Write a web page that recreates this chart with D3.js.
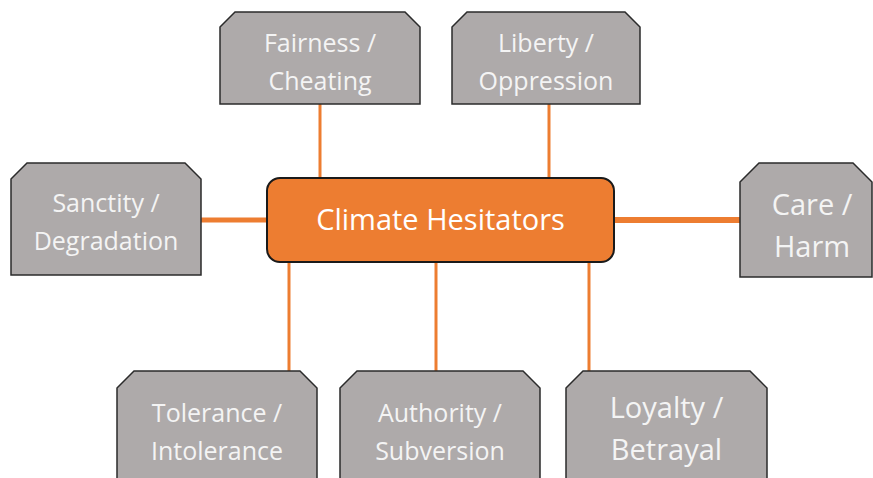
<!DOCTYPE html>
<meta charset="utf-8">
<script src="https://d3js.org/d3.v7.js"></script>
<style>
  body { margin: 0; background: #fff; }
  text { font-family: "Open Sans", Lato, sans-serif; }
</style>
<div id="my_dataviz"></div>
<script>

// centre node and the moral foundation nodes around it
var centreLabel = "Climate Hesitators"
var nodeLabels = [
  ["Fairness /", "Cheating"],
  ["Liberty /", "Oppression"],
  ["Sanctity /", "Degradation"],
  ["Care /", "Harm"],
  ["Tolerance /", "Intolerance"],
  ["Authority /", "Subversion"],
  ["Loyalty /", "Betrayal"]
]
var nodeSides = ["top", "top", "left", "right", "bottom", "bottom", "bottom"]

// layout (pixel positions for the boxes, text baselines)
var layout = [
  {x0: 220, x1: 420, y0: 12, y1: 104, cut: 15, fs: 25, lx: 320, b: 52, gap: 38},
  {x0: 452, x1: 640, y0: 12, y1: 104, cut: 15, fs: 25, lx: 549, b: 52, gap: 38},
  {x0: 11, x1: 201, y0: 163, y1: 275, cut: 16, fs: 25, ly: 220, b: 212, gap: 38},
  {x0: 740, x1: 872, y0: 163, y1: 277, cut: 19, fs: 29, ly: 220, b: 215, gap: 42, tx: 812},
  {x0: 117, x1: 317, y0: 371, y1: 490, cut: 17, fs: 25, lx: 289, b: 422, gap: 38},
  {x0: 340, x1: 540, y0: 371, y1: 490, cut: 17, fs: 25, lx: 436, b: 422, gap: 38},
  {x0: 566, x1: 767, y0: 371, y1: 490, cut: 17, fs: 29, lx: 589, b: 418, gap: 42}
]
var centre = {x0: 267, x1: 614, y0: 178, y1: 262}

var width = 873, height = 478

var svg = d3.select("#my_dataviz").append("svg")
  .attr("width", width)
  .attr("height", height)

var nodes = nodeLabels.map(function(d, i) {
  return Object.assign({lines: d, side: nodeSides[i]}, layout[i])
})

// connectors first so boxes sit on top
svg.selectAll("line.conn")
  .data(nodes)
  .enter()
  .append("line")
    .attr("class", "conn")
    .attr("x1", function(d) {
      if (d.side == "left") return d.x1
      if (d.side == "right") return centre.x1
      return d.lx })
    .attr("x2", function(d) {
      if (d.side == "left") return centre.x0
      if (d.side == "right") return d.x0
      return d.lx })
    .attr("y1", function(d) {
      if (d.side == "top") return d.y1
      if (d.side == "bottom") return centre.y1
      return d.ly })
    .attr("y2", function(d) {
      if (d.side == "top") return centre.y0
      if (d.side == "bottom") return d.y0
      return d.ly })
    .attr("stroke", "#ED7D31")
    .attr("stroke-width", function(d) { return d.side == "right" ? 6 : (d.side == "left" ? 5 : 3) })

function snipPath(d) {
  var c = d.cut
  return "M" + d.x0 + "," + (d.y0 + c) +
    "L" + (d.x0 + c) + "," + d.y0 +
    "L" + (d.x1 - c) + "," + d.y0 +
    "L" + d.x1 + "," + (d.y0 + c) +
    "L" + d.x1 + "," + d.y1 +
    "L" + d.x0 + "," + d.y1 + "Z"
}

var g = svg.selectAll("g.node")
  .data(nodes)
  .enter()
  .append("g")
    .attr("class", "node")

g.append("path")
  .attr("d", snipPath)
  .attr("fill", "#AEAAAA")
  .attr("stroke", "#2b2b2b")
  .attr("stroke-width", 1.5)

g.each(function(d) {
  var cx = d.tx || (d.x0 + d.x1) / 2
  d3.select(this).selectAll("text")
    .data(d.lines)
    .enter()
    .append("text")
      .attr("x", cx)
      .attr("y", function(t, i) { return d.b + i * d.gap })
      .attr("text-anchor", "middle")
      .attr("fill", "#F4F4F4")
      .style("font-size", d.fs + "px")
      .text(function(t) { return t })
})

svg.append("rect")
  .attr("x", centre.x0)
  .attr("y", centre.y0)
  .attr("width", centre.x1 - centre.x0)
  .attr("height", centre.y1 - centre.y0)
  .attr("rx", 13)
  .attr("fill", "#ED7D31")
  .attr("stroke", "#1a1a1a")
  .attr("stroke-width", 2)

svg.append("text")
  .attr("x", (centre.x0 + centre.x1) / 2)
  .attr("y", 230)
  .attr("text-anchor", "middle")
  .attr("fill", "#FFFFFF")
  .style("font-size", "29px")
  .text(centreLabel)

</script>
